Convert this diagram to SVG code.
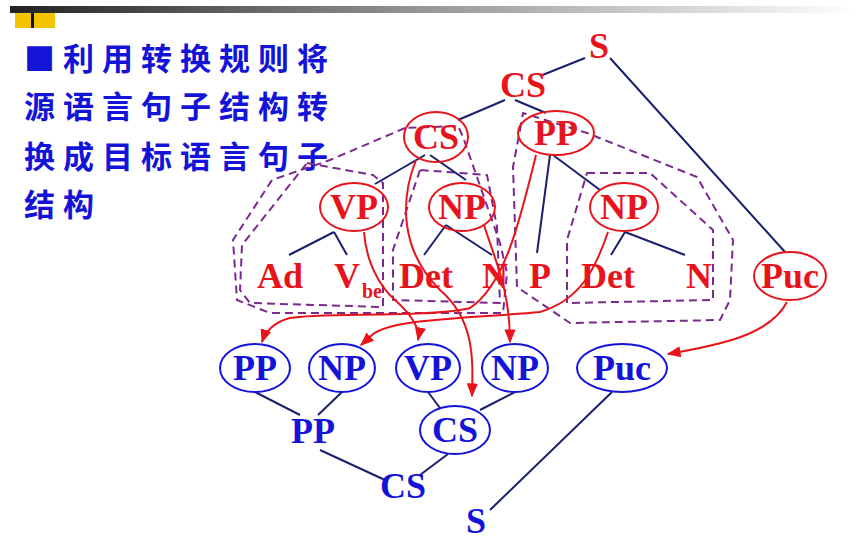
<svg xmlns="http://www.w3.org/2000/svg" width="855" height="540" viewBox="0 0 855 540">
<defs>
<linearGradient id="bar" x1="0" x2="1"><stop offset="0" stop-color="#222"/><stop offset="0.5" stop-color="#999"/><stop offset="1" stop-color="#fff"/></linearGradient>
<marker id="ah" viewBox="0 0 10 10" refX="9" refY="5" markerWidth="7" markerHeight="7" orient="auto"><path d="M0,1 L10,5 L0,9 z" fill="#e8141b"/></marker>
<style>
.r{fill:#e8141b;font-family:"Liberation Serif",serif;font-weight:bold;font-size:36px;text-anchor:middle}
.b{fill:#1414d8;font-family:"Liberation Serif",serif;font-weight:bold;font-size:36px;text-anchor:middle}
.re{fill:none;stroke:#e8141b;stroke-width:2}
.be{fill:none;stroke:#1414d8;stroke-width:2}
.ln{stroke:#1a1f6e;stroke-width:2}
.ar{fill:none;stroke:#e8141b;stroke-width:2;marker-end:url(#ah)}
.ds{fill:none;stroke:#7a2a8e;stroke-width:2;stroke-dasharray:8,5;stroke-linejoin:round}
.cn{fill:#1414d8;font-family:"Noto Sans CJK SC",sans-serif;font-weight:bold;font-size:31px;letter-spacing:8px}
</style>
</defs>
<rect x="10" y="6" width="845" height="7" fill="url(#bar)"/>
<rect x="15" y="13" width="40" height="15" fill="#f5c400"/>
<rect x="31" y="13" width="3" height="15" fill="#111"/>
<g id="title">
<text class="cn" x="24" y="70">■利用转换规则将</text>
<text class="cn" x="24" y="118">源语言句子结构转</text>
<text class="cn" x="24" y="168">换成目标语言句子</text>
<text class="cn" x="24" y="216">结构</text>
</g>
<g id="dashed">
<path class="ds" d="M307,163 L373,175 L383,183 L383,307 L250,303 L240,290 L242,245 Z"/>
<path class="ds" d="M405,128 L330,160 L272,180 L233,240 L237,300 L270,313 L503,313 L507,273 L500,243 L463,137 L458,126 Z"/>
<path class="ds" d="M420,170 L393,250 L393,300 L500,303 L497,227 L487,175 Z"/>
<path class="ds" d="M520,130 L523,113 L587,133 L697,177 L733,240 L730,300 L720,320 L570,323 L517,287 L513,167 Z"/>
<path class="ds" d="M587,173 L650,173 L713,230 L713,300 L567,303 L567,240 Z"/>
</g>
<g id="lines">
<line class="ln" x1="540" y1="76" x2="585" y2="58"/>
<line class="ln" x1="610" y1="58" x2="785" y2="252"/>
<line class="ln" x1="505" y1="100" x2="458" y2="120"/>
<line class="ln" x1="515" y1="100" x2="546" y2="113"/>
<line class="ln" x1="425" y1="155" x2="375" y2="184"/>
<line class="ln" x1="430" y1="155" x2="466" y2="180"/>
<line class="ln" x1="550" y1="155" x2="537" y2="253"/>
<line class="ln" x1="553" y1="155" x2="600" y2="190"/>
<line class="ln" x1="334" y1="232" x2="289" y2="255"/>
<line class="ln" x1="334" y1="232" x2="347" y2="255"/>
<line class="ln" x1="446" y1="225" x2="424" y2="255"/>
<line class="ln" x1="446" y1="225" x2="492" y2="255"/>
<line class="ln" x1="625" y1="232" x2="611" y2="255"/>
<line class="ln" x1="625" y1="232" x2="685" y2="255"/>
<line class="ln" x1="255" y1="392" x2="300" y2="415"/>
<line class="ln" x1="342" y1="392" x2="318" y2="415"/>
<line class="ln" x1="428" y1="392" x2="440" y2="408"/>
<line class="ln" x1="515" y1="392" x2="480" y2="410"/>
<line class="ln" x1="320" y1="450" x2="385" y2="480"/>
<line class="ln" x1="448" y1="454" x2="420" y2="475"/>
<line class="ln" x1="612" y1="392" x2="490" y2="510"/>
</g>
<g id="arrows">
<path class="ar" d="M536,155 C520,220 505,285 470,308 C430,318 320,312 290,318 C275,322 266,330 262,342"/>
<path class="ar" d="M608,232 C595,270 580,300 540,312 C480,318 390,318 372,335 L361,345"/>
<path class="ar" d="M364,232 C366,260 378,285 395,300 C415,318 420,330 418,340"/>
<path class="ar" d="M416,160 C400,200 400,250 440,290 C475,320 473,360 472,396"/>
<path class="ar" d="M484,225 C495,260 510,290 510,342"/>
<path class="ar" d="M787,302 C770,335 720,345 668,354"/>
</g>
<g id="red-nodes">
<text class="r" x="599" y="58">S</text>
<text class="r" x="523" y="97">CS</text>
<ellipse class="re" cx="436" cy="137" rx="32" ry="25"/><text class="r" x="436" y="149">CS</text>
<ellipse class="re" cx="556" cy="133" rx="38" ry="22"/><text class="r" x="556" y="145">PP</text>
<ellipse class="re" cx="354" cy="207" rx="34" ry="24"/><text class="r" x="354" y="219">VP</text>
<ellipse class="re" cx="462" cy="207" rx="33" ry="24"/><text class="r" x="462" y="219">NP</text>
<ellipse class="re" cx="624" cy="207" rx="34" ry="24"/><text class="r" x="624" y="219">NP</text>
<text class="r" x="280" y="288">Ad</text>
<text class="r" x="347" y="288">V</text><text class="r" x="372" y="298" style="font-size:20px">be</text>
<text class="r" x="426" y="288">Det</text>
<text class="r" x="495" y="288">N</text>
<text class="r" x="540" y="288">P</text>
<text class="r" x="608" y="288">Det</text>
<text class="r" x="699" y="288">N</text>
<ellipse class="re" cx="790" cy="276" rx="36" ry="24"/><text class="r" x="790" y="288">Puc</text>
</g>
<g id="blue-nodes">
<ellipse class="be" cx="255" cy="368" rx="35" ry="24"/><text class="b" x="255" y="380">PP</text>
<ellipse class="be" cx="342" cy="368" rx="33" ry="24"/><text class="b" x="342" y="380">NP</text>
<ellipse class="be" cx="428" cy="368" rx="32" ry="24"/><text class="b" x="428" y="380">VP</text>
<ellipse class="be" cx="515" cy="368" rx="33" ry="24"/><text class="b" x="515" y="380">NP</text>
<ellipse class="be" cx="622" cy="368" rx="45" ry="24"/><text class="b" x="622" y="380">Puc</text>
<ellipse class="be" cx="455" cy="430" rx="35" ry="24"/><text class="b" x="455" y="442">CS</text>
<text class="b" x="313" y="443">PP</text>
<text class="b" x="403" y="498">CS</text>
<text class="b" x="476" y="533">S</text>
</g>
</svg>
